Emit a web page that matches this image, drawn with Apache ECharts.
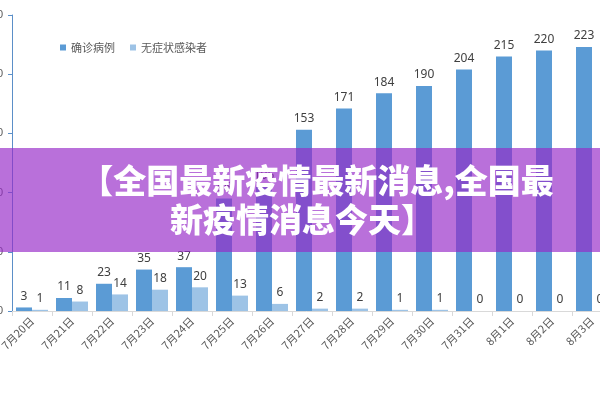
<!DOCTYPE html>
<html>
<head>
<meta charset="utf-8">
<script src="https://cdn.jsdelivr.net/npm/echarts@6/dist/echarts.min.js"></script>
<style>html,body{margin:0;padding:0;background:#fff;}#c{width:600px;height:400px;}</style>
</head>
<body>
<div id="c"></div>
<script>
const categories = ['7月20日','7月21日','7月22日','7月23日','7月24日','7月25日','7月26日','7月27日','7月28日','7月29日','7月30日','7月31日','8月1日','8月2日','8月3日'];
const confirmed = [3, 11, 23, 35, 37, 95, 105, 153, 171, 184, 190, 204, 215, 220, 223];
const asymptomatic = [1, 8, 14, 18, 20, 13, 6, 2, 2, 1, 1, 0, 0, 0, 0];
const seriesNames = ['确诊病例', '无症状感染者'];
const yTicks = { min: 0, max: 250, interval: 50 };
const bannerLines = ['【全国最新疫情最新消息,全国最', '新疫情消息今天】'];

const chart = echarts.init(document.getElementById('c'), null, { renderer: 'canvas' });
const labelStyle = { show: true, position: 'top', distance: 5, color: '#404040', fontSize: 12, fontFamily: 'Noto Sans' };
chart.setOption({
  animation: false,
  backgroundColor: '#ffffff',
  grid: { left: 12, right: -12, top: 15, bottom: 89, containLabel: false, outerBoundsMode: 'none' },
  legend: {
    data: seriesNames, left: 55, top: 37, icon: 'rect', itemWidth: 6, itemHeight: 6, itemGap: 15,
    textStyle: { color: '#595959', fontSize: 11, fontFamily: 'Noto Sans CJK SC' }
  },
  xAxis: {
    type: 'category', data: categories,
    axisLine: { lineStyle: { color: '#d9d9d9' } },
    axisTick: { show: true, alignWithLabel: false, length: 5, lineStyle: { color: '#d9d9d9' } },
    axisLabel: { rotate: 45, margin: 8, color: '#595959', fontSize: 11, fontFamily: 'Noto Sans CJK SC', interval: 0 }
  },
  yAxis: {
    type: 'value', min: yTicks.min, max: yTicks.max, interval: yTicks.interval,
    axisLine: { show: true, lineStyle: { color: '#5b8fc8' } },
    axisTick: { show: true, length: 4, lineStyle: { color: '#5b8fc8' } },
    splitLine: { show: false },
    axisLabel: { margin: 9, color: '#595959', fontSize: 11 }
  },
  series: [
    { name: seriesNames[0], type: 'bar', data: confirmed, barWidth: 16, barGap: '0%', itemStyle: { color: '#5b9bd5' }, label: labelStyle },
    { name: seriesNames[1], type: 'bar', data: asymptomatic, barWidth: 16, itemStyle: { color: '#9dc3e6' }, label: labelStyle }
  ],
  graphic: [
    { type: 'rect', z: 100, shape: { x: 0, y: 148, width: 600, height: 104 }, style: { fill: 'rgba(150,42,200,0.67)' } },
    { type: 'text', z: 101, x: 317, y: 180, style: { text: bannerLines[0], fill: '#ffffff', font: '900 33px "Noto Sans CJK SC"', textAlign: 'center', textVerticalAlign: 'middle' } },
    { type: 'text', z: 101, x: 302, y: 219, style: { text: bannerLines[1], fill: '#ffffff', font: '900 33px "Noto Sans CJK SC"', textAlign: 'center', textVerticalAlign: 'middle' } }
  ]
});
</script>
</body>
</html>
